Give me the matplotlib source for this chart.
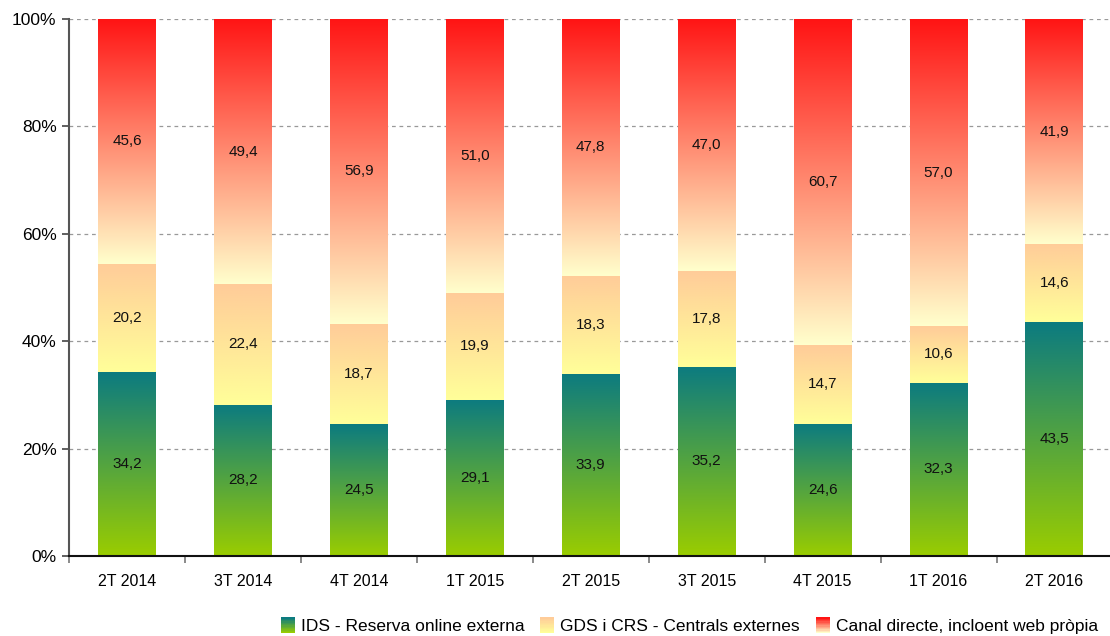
import numpy as np
import matplotlib
matplotlib.use("Agg")
import matplotlib.pyplot as plt
from matplotlib.colors import LinearSegmentedColormap
from matplotlib.patches import Rectangle
from matplotlib.legend_handler import HandlerBase

plt.rcParams["font.family"] = ["Liberation Sans", "DejaVu Sans"]

# ---------------------------------------------------------------- data
quarters = ["2T 2014", "3T 2014", "4T 2014", "1T 2015", "2T 2015",
            "3T 2015", "4T 2015", "1T 2016", "2T 2016"]
ids = [34.2, 28.2, 24.5, 29.1, 33.9, 35.2, 24.6, 32.3, 43.5]
gds = [20.2, 22.4, 18.7, 19.9, 18.3, 17.8, 14.7, 10.6, 14.6]
directe = [45.6, 49.4, 56.9, 51.0, 47.8, 47.0, 60.7, 57.0, 41.9]
series_names = ["IDS - Reserva online externa",
                "GDS i CRS - Centrals externes",
                "Canal directe, incloent web pròpia"]

# gradients: (bottom colour, top colour) per series
grads = [("#9acd00", "#0c7b80"),
         ("#ffff99", "#ffcc99"),
         ("#ffffcc", "#ff1414")]
cmaps = [LinearSegmentedColormap.from_list(f"g{i}", list(c)) for i, c in enumerate(grads)]

fig = plt.figure(figsize=(11.1, 6.36), dpi=100)
ax = fig.add_axes([0.0622, 0.1258, 0.94, 0.8443])

x = np.arange(len(quarters))
ramp = np.linspace(0, 1, 256).reshape(-1, 1)
bottom = np.zeros(len(quarters))
for vals, cm in zip([ids, gds, directe], cmaps):
    bars = ax.bar(x, vals, width=0.5, bottom=bottom, color="none", edgecolor="none")
    for b, v in zip(bars, vals):
        x0, y0 = b.get_x(), b.get_y()
        ax.imshow(ramp, cmap=cm, origin="lower", aspect="auto",
                  extent=[x0, x0 + b.get_width(), y0, y0 + b.get_height()],
                  zorder=2, interpolation="bilinear")
        ax.text(x0 + b.get_width() / 2, y0 + b.get_height() / 2,
                f"{v:.1f}".replace(".", ","), ha="center", va="center",
                fontsize=11, color="#111111", zorder=3)
    bottom = bottom + np.array(vals)

ax.set_xlim(-0.5, len(quarters) - 0.5)
ax.set_ylim(0, 100)
ax.set_yticks(np.arange(0, 101, 20))
ax.set_yticklabels([f"{t}%" for t in range(0, 101, 20)], fontsize=12.5)
ax.set_xticks(x)
ax.set_xticklabels(quarters, fontsize=11.5)
ax.set_xticks(np.arange(-0.5, len(quarters), 1), minor=True)
ax.tick_params(axis="x", which="major", length=0, pad=13)
ax.tick_params(axis="x", which="minor", length=5, color="#777777", width=1.2)
ax.tick_params(axis="y", length=5, color="#444444", width=1.2, pad=4)
ax.grid(axis="y", linestyle=(0, (3, 3)), color="#999999", linewidth=0.9, zorder=0)
ax.set_axisbelow(True)
for s in ["top", "right"]:
    ax.spines[s].set_visible(False)
ax.spines["left"].set_color("#555555")
ax.spines["left"].set_linewidth(1.5)
ax.spines["bottom"].set_color("#111111")
ax.spines["bottom"].set_linewidth(1.5)


class GradHandler(HandlerBase):
    def __init__(self, cmap):
        super().__init__()
        self.cmap = cmap

    def create_artists(self, legend, orig_handle, xdescent, ydescent,
                       width, height, fontsize, trans):
        n = 12
        w = 10
        x0 = -xdescent + width - w
        h = height * 1.3
        y0 = -ydescent - height * 0.15
        arts = []
        for i in range(n):
            r = Rectangle((x0, y0 + h * i / n), w, h / n + 0.3,
                          facecolor=self.cmap(i / (n - 1)), edgecolor="none",
                          transform=trans)
            arts.append(r)
        return arts


handles = [Rectangle((0, 0), 1, 1) for _ in series_names]
fig.legend(handles, series_names, loc="lower right", bbox_to_anchor=(1.003, -0.022),
           ncol=3, frameon=False, fontsize=12.5, handlelength=0.8,
           handletextpad=0.35, columnspacing=0.9,
           handler_map={h: GradHandler(cm) for h, cm in zip(handles, cmaps)})

fig.savefig("out.png", dpi=100)
